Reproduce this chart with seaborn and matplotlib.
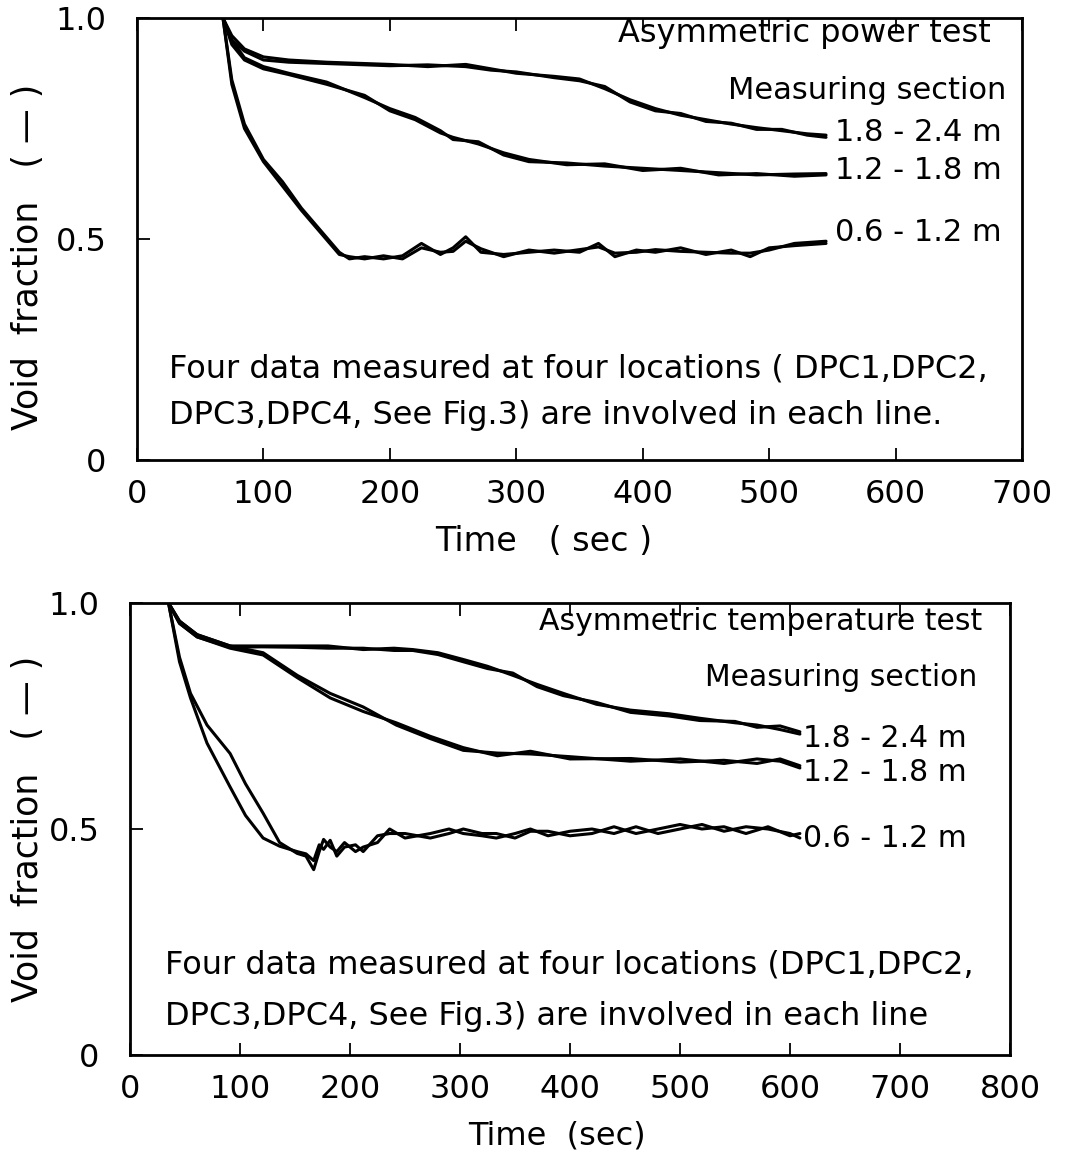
import numpy as np
import pandas as pd
import seaborn as sns
import matplotlib.pyplot as plt

sns.set_theme(style="ticks")
plt.rcParams["font.family"] = ["DejaVu Sans"]
plt.rcParams["text.color"] = "black"
plt.rcParams["axes.labelcolor"] = "black"
plt.rcParams["xtick.color"] = "black"
plt.rcParams["ytick.color"] = "black"

# Asymmetric power test (top panel), two overlapping DPC traces per section
p_t_hi = [68, 75, 85, 100, 120, 150, 200, 230, 260, 280, 300, 330, 350, 370, 390, 410, 430, 450, 470, 490, 510, 530, 545]
p_hi_a = [1.0, 0.96, 0.93, 0.912, 0.905, 0.90, 0.895, 0.89, 0.895, 0.885, 0.875, 0.868, 0.862, 0.84, 0.815, 0.795, 0.78, 0.77, 0.76, 0.752, 0.745, 0.738, 0.735]
p_hi_b = [1.0, 0.95, 0.925, 0.905, 0.90, 0.897, 0.892, 0.894, 0.89, 0.882, 0.878, 0.865, 0.858, 0.845, 0.81, 0.79, 0.784, 0.766, 0.762, 0.748, 0.748, 0.735, 0.73]

p_t_mid = [68, 75, 85, 100, 120, 150, 180, 200, 220, 240, 250, 270, 290, 310, 340, 370, 400, 430, 460, 490, 520, 545]
p_mid_a = [1.0, 0.95, 0.91, 0.89, 0.875, 0.855, 0.82, 0.795, 0.775, 0.745, 0.725, 0.72, 0.69, 0.675, 0.672, 0.665, 0.66, 0.655, 0.65, 0.645, 0.647, 0.648]
p_mid_b = [1.0, 0.94, 0.905, 0.885, 0.872, 0.85, 0.825, 0.79, 0.77, 0.74, 0.73, 0.715, 0.695, 0.68, 0.668, 0.67, 0.655, 0.66, 0.645, 0.648, 0.642, 0.645]

p_t_lo = [68, 75, 85, 100, 115, 130, 145, 160, 168, 180, 195, 210, 225, 240, 250, 260, 272, 290, 310, 330, 350, 365, 378, 395, 410, 430, 450, 470, 485, 500, 520, 545]
p_lo_a = [1.0, 0.86, 0.76, 0.68, 0.63, 0.57, 0.52, 0.47, 0.455, 0.46, 0.455, 0.462, 0.49, 0.465, 0.48, 0.505, 0.47, 0.465, 0.47, 0.475, 0.47, 0.49, 0.46, 0.475, 0.47, 0.48, 0.465, 0.475, 0.46, 0.48, 0.485, 0.49]
p_lo_b = [1.0, 0.85, 0.75, 0.675, 0.62, 0.565, 0.515, 0.465, 0.46, 0.455, 0.462, 0.455, 0.48, 0.47, 0.472, 0.495, 0.478, 0.46, 0.475, 0.468, 0.476, 0.482, 0.468, 0.47, 0.476, 0.472, 0.47, 0.468, 0.468, 0.475, 0.49, 0.495]

# Asymmetric temperature test (bottom panel)
t_t_hi = [35, 45, 61, 91, 120, 152, 180, 212, 240, 257, 280, 303, 325, 348, 370, 394, 424, 455, 490, 518, 550, 570, 591, 609]
t_hi_a = [1.0, 0.96, 0.93, 0.905, 0.905, 0.905, 0.905, 0.897, 0.9, 0.897, 0.89, 0.875, 0.86, 0.84, 0.82, 0.80, 0.776, 0.763, 0.755, 0.745, 0.735, 0.73, 0.72, 0.71]
t_hi_b = [1.0, 0.955, 0.925, 0.902, 0.903, 0.902, 0.9, 0.9, 0.895, 0.895, 0.886, 0.87, 0.855, 0.845, 0.815, 0.795, 0.78, 0.758, 0.75, 0.74, 0.738, 0.725, 0.728, 0.715]

t_t_mid = [35, 45, 61, 91, 121, 152, 182, 212, 242, 273, 303, 334, 364, 400, 455, 500, 540, 570, 591, 609]
t_mid_a = [1.0, 0.96, 0.93, 0.905, 0.89, 0.84, 0.80, 0.77, 0.73, 0.70, 0.674, 0.668, 0.666, 0.66, 0.65, 0.655, 0.645, 0.655, 0.65, 0.635]
t_mid_b = [1.0, 0.955, 0.925, 0.9, 0.885, 0.835, 0.79, 0.76, 0.735, 0.705, 0.68, 0.662, 0.672, 0.655, 0.656, 0.648, 0.652, 0.645, 0.655, 0.64]

t_t_lo = [35, 45, 55, 70, 91, 105, 121, 136, 152, 160, 167, 172, 176, 182, 188, 195, 205, 212, 225, 236, 250, 273, 290, 303, 320, 333, 350, 364, 380, 400, 420, 440, 460, 480, 500, 520, 540, 560, 580, 600, 609]
t_lo_a = [1.0, 0.88, 0.80, 0.73, 0.667, 0.60, 0.535, 0.47, 0.446, 0.44, 0.41, 0.45, 0.477, 0.46, 0.45, 0.47, 0.45, 0.46, 0.47, 0.50, 0.48, 0.49, 0.50, 0.49, 0.485, 0.48, 0.49, 0.50, 0.485, 0.495, 0.50, 0.49, 0.505, 0.49, 0.50, 0.51, 0.495, 0.505, 0.50, 0.49, 0.48]
t_lo_b = [1.0, 0.87, 0.79, 0.69, 0.593, 0.53, 0.48, 0.462, 0.45, 0.445, 0.43, 0.465, 0.455, 0.475, 0.44, 0.46, 0.465, 0.45, 0.485, 0.49, 0.49, 0.48, 0.49, 0.50, 0.49, 0.49, 0.48, 0.495, 0.495, 0.485, 0.49, 0.505, 0.49, 0.5, 0.51, 0.5, 0.505, 0.49, 0.505, 0.485, 0.49]

section_labels = ["1.8 - 2.4 m", "1.2 - 1.8 m", "0.6 - 1.2 m"]


def long_frame(groups):
    rows = []
    for sec, t, a, b in groups:
        for tr, vals in (("DPC-a", a), ("DPC-b", b)):
            rows.append(pd.DataFrame({"time": t, "void": vals, "section": sec, "trace": sec + tr}))
    return pd.concat(rows, ignore_index=True)


power = long_frame([
    ("hi", p_t_hi, p_hi_a, p_hi_b),
    ("mid", p_t_mid, p_mid_a, p_mid_b),
    ("lo", p_t_lo, p_lo_a, p_lo_b),
])
temp = long_frame([
    ("hi", t_t_hi, t_hi_a, t_hi_b),
    ("mid", t_t_mid, t_mid_a, t_mid_b),
    ("lo", t_t_lo, t_lo_a, t_lo_b),
])

fig = plt.figure(figsize=(10.65, 11.58), dpi=100)
ax1 = fig.add_axes([137 / 1065, 1 - 460 / 1158, 885 / 1065, 442 / 1158])
ax2 = fig.add_axes([130 / 1065, 1 - 1055 / 1158, 880 / 1065, 452 / 1158])

for ax, df, xmax in ((ax1, power, 700), (ax2, temp, 800)):
    sns.lineplot(data=df, x="time", y="void", units="trace", estimator=None,
                 color="black", linewidth=2.2, ax=ax, legend=False)
    ax.set_xlim(0, xmax)
    ax.set_ylim(0, 1.0)
    ax.set_xticks(np.arange(0, xmax + 1, 100))
    ax.set_yticks([0, 0.5, 1.0])
    ax.set_yticklabels(["0", "0.5", "1.0"])
    ax.tick_params(axis="x", direction="in", top=True, length=9, width=1.3,
                   labelsize=23, pad=14)
    ax.tick_params(axis="y", direction="in", length=9, width=1.3,
                   labelsize=23, pad=22)
    for sp in ax.spines.values():
        sp.set_linewidth(2)
        sp.set_color("black")
    ax.set_ylabel("Void  fraction   ( \u2014 )", fontsize=25)

ax1.set_xlabel("Time   ( sec )", fontsize=24)
ax1.xaxis.set_label_coords(0.459, -0.148)
ax1.yaxis.set_label_coords(-0.104, 0.46)
ax2.set_xlabel("Time  (sec)", fontsize=23)
ax2.xaxis.set_label_coords(0.485, -0.145)
ax2.yaxis.set_label_coords(-0.097, 0.5)

# Annotations, top panel
ax1.text(675, 0.965, "Asymmetric power test", fontsize=23, ha="right", va="center")
ax1.text(688, 0.835, "Measuring section", fontsize=22, ha="right", va="center")
for lab, y in zip(section_labels, [0.742, 0.656, 0.514]):
    ax1.text(552, y, lab, fontsize=22, ha="left", va="center")
ax1.text(25, 0.205, "Four data measured at four locations ( DPC1,DPC2,", fontsize=23, ha="left", va="center")
ax1.text(25, 0.1, "DPC3,DPC4, See Fig.3) are involved in each line.", fontsize=23, ha="left", va="center")

# Annotations, bottom panel
ax2.text(775, 0.96, "Asymmetric temperature test", fontsize=21.5, ha="right", va="center")
ax2.text(770, 0.835, "Measuring section", fontsize=21.5, ha="right", va="center")
for lab, y in zip(section_labels, [0.70, 0.625, 0.48]):
    ax2.text(612, y, lab, fontsize=21.5, ha="left", va="center")
ax2.text(32, 0.20, "Four data measured at four locations (DPC1,DPC2,", fontsize=23, ha="left", va="center")
ax2.text(32, 0.085, "DPC3,DPC4, See Fig.3) are involved in each line", fontsize=23, ha="left", va="center")

fig.savefig("out.png", dpi=100, facecolor="white")
